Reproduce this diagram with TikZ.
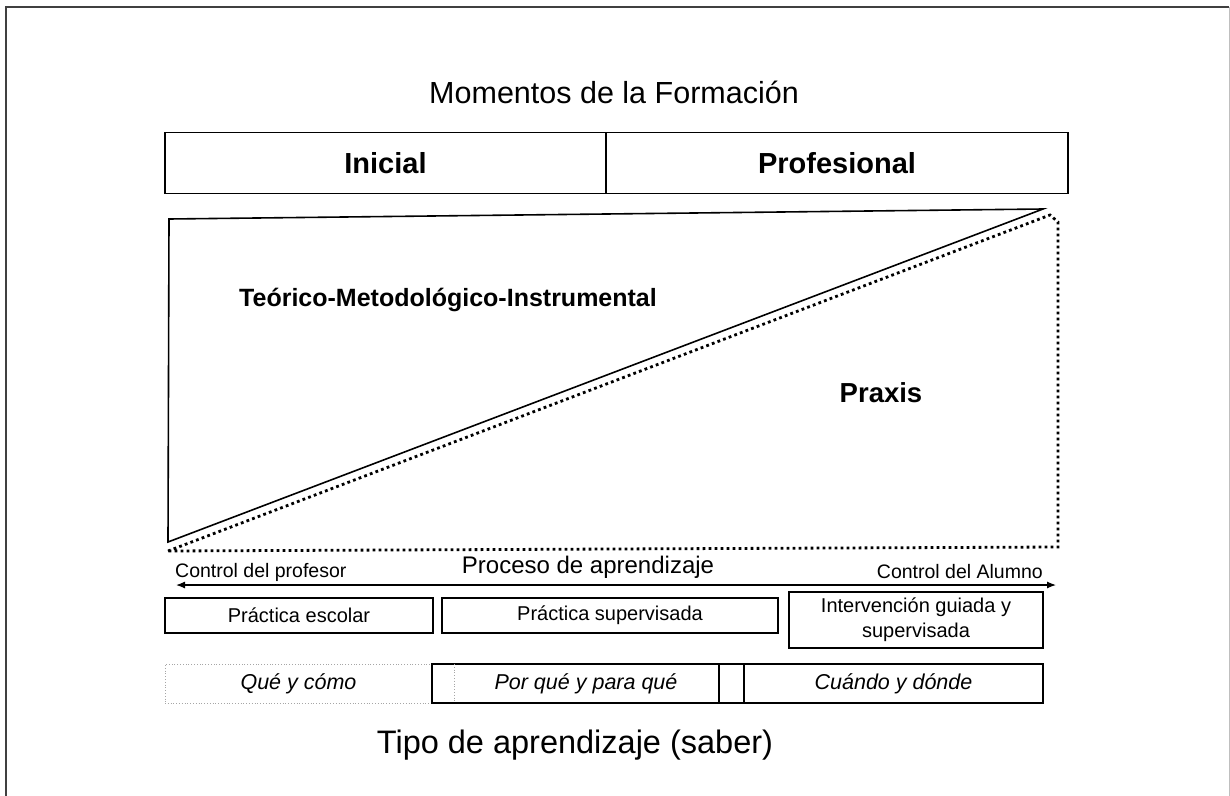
\documentclass[tikz,border=0pt]{standalone}
\usepackage{fontspec}
\setmainfont{Liberation Sans}
\usetikzlibrary{arrows.meta,calc}
\begin{document}
\begin{tikzpicture}[x=1pt,y=-1pt,
  box/.style={draw, line width=1.6pt, inner sep=0pt, outer sep=0pt, align=center},
  rowbox/.style={draw, line width=1.3pt, inner sep=0pt, outer sep=0pt, align=center, font=\fontsize{20}{25}\selectfont},
  qbox/.style={draw=gray!70, dotted, line width=0.8pt, inner sep=0pt, outer sep=0pt, align=center, font=\fontsize{21.5}{25}\selectfont\itshape},
  ibox/.style={rowbox, font=\fontsize{21.5}{25}\selectfont\itshape},
  lbl/.style={inner sep=0pt, font=\fontsize{19.5}{23}\selectfont},
  dots/.style={line width=2.8pt, dash pattern=on 2.8pt off 3.2pt}
]
\useasboundingbox (0,0) rectangle (1230,795);
\fill[white] (0,0) rectangle (1230,795);
\draw[line width=2pt, black!75] (6,800) -- (6,7) -- (1229,7);
\draw[line width=1pt, black!25] (1229,7) -- (1229,800);

\node[inner sep=0pt, font=\fontsize{30.5}{34}\selectfont] (title) at (614,92) {Momentos de la Formación};

\node[box, minimum width=441pt, minimum height=61pt, font=\fontsize{29}{33}\selectfont\bfseries] (ini) at (385.5,163) {Inicial};
\node[box, minimum width=462pt, minimum height=61pt, font=\fontsize{29}{33}\selectfont\bfseries] (prof) at (837,163) {Profesional};

% triangles
\coordinate (tl) at (169,219);
\coordinate (tr) at (1043,209);
\coordinate (bl) at (168,542);
\draw[line width=1.6pt, line join=miter] (bl) -- (tl) -- (tr) -- cycle;
\coordinate (dbl) at (168,551);
\coordinate (dtl) at (1050,215);
\coordinate (dtr) at (1058,222);
\coordinate (dbr) at (1058,547);
\draw[dots] (dbl) -- (dtl) -- (dtr) -- (dbr) -- cycle;

\node[inner sep=0pt, font=\fontsize{25}{29}\selectfont\bfseries] (teo) at (448,300) {Teórico-Metodológico-Instrumental};
\node[inner sep=0pt, font=\fontsize{27.5}{31}\selectfont\bfseries] (praxis) at (881,393) {Praxis};

% arrow
\coordinate (al) at (176,585);
\coordinate (ar) at (1056,585);
\draw[{Latex[length=9pt,width=7pt]}-{Latex[length=9pt,width=7pt]}, line width=1.2pt] (al) -- (ar);
\node[lbl, anchor=west] (cprof) at (175,572) {Control del profesor};
\node[inner sep=0pt, font=\fontsize{24}{28}\selectfont] (proc) at (588,567) {Proceso de aprendizaje};
\node[lbl, anchor=east] (calum) at (1043,572) {Control del Alumno};

% row boxes
\node[rowbox, minimum width=268pt, minimum height=35pt] (pe) at (299,615.5) {Práctica escolar};
\node[rowbox, minimum width=336pt, minimum height=35pt] (ps) at (610,615.5) {Práctica supervisada};
\node[rowbox, minimum width=254pt, minimum height=56pt] (igs) at (916,620) {Intervención guiada y\\supervisada};

% bottom row
\node[qbox, minimum width=267pt, minimum height=39pt] (que) at (298.5,683.5) {Qué y cómo};
\node[ibox, minimum width=287pt, minimum height=39pt] (porque) at (575.5,683.5) {};
\node[inner sep=0pt, font=\fontsize{21.5}{25}\selectfont\itshape] (porquet) at (586,683.5) {Por qué y para qué};
\node[rowbox, minimum width=25pt, minimum height=39pt] (small) at (731.5,683.5) {};
\node[ibox, minimum width=299pt, minimum height=39pt] (cuando) at (893.5,683.5) {Cuándo y dónde};
\draw[gray!70, dotted, line width=0.8pt] ($(porque.north west)+(22,0)$) -- ($(porque.south west)+(22,0)$);
\draw[line width=2.2pt] (small.south west) -- (small.south east);

\node[inner sep=0pt, font=\fontsize{32.5}{36}\selectfont] (tipo) at (575,745) {Tipo de aprendizaje (saber)};
\end{tikzpicture}
\end{document}
